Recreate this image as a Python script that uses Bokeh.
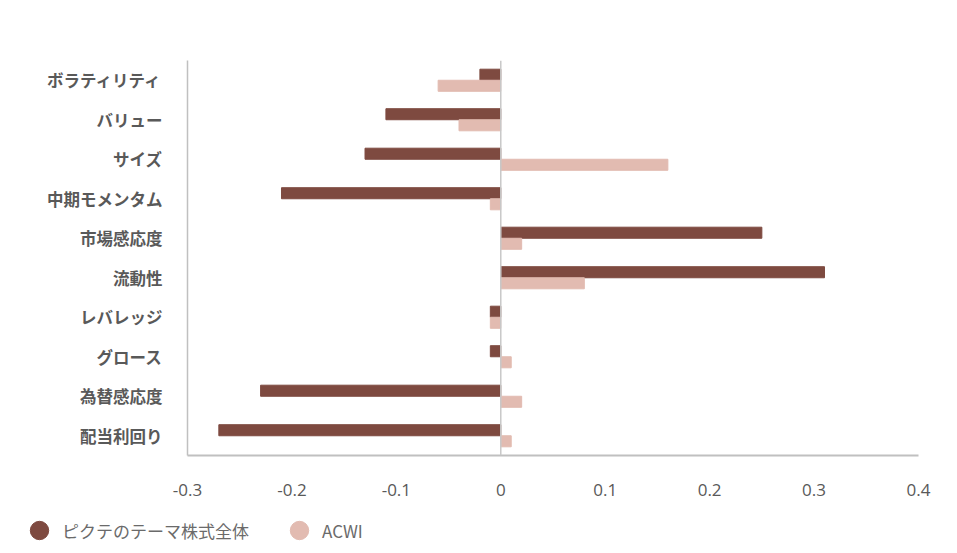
from bokeh.plotting import figure
from bokeh.models import (FactorRange, Range1d, FixedTicker, CustomJSTickFormatter, Span,
                          Legend, LegendItem, ColumnDataSource)
from bokeh.transform import dodge
from bokeh.embed import file_html
from bokeh.resources import INLINE

categories = ["ボラティリティ", "バリュー", "サイズ", "中期モメンタム", "市場感応度",
              "流動性", "レバレッジ", "グロース", "為替感応度", "配当利回り"]
pictet = [-0.02, -0.11, -0.13, -0.21, 0.25, 0.31, -0.01, -0.01, -0.23, -0.27]
acwi = [-0.06, -0.04, 0.16, -0.01, 0.02, 0.08, -0.01, 0.01, 0.02, 0.01]
series_names = ["ピクテのテーマ株式全体", "ACWI"]
x_ticks = [-0.3, -0.2, -0.1, 0.0, 0.1, 0.2, 0.3, 0.4]

DARK = "#7e4a40"
LIGHT = "#e2bbb1"
GRAY_TXT = "#595959"

src = ColumnDataSource(dict(cat=categories, pictet=pictet, acwi=acwi))

p = figure(width=940, height=508, output_backend="svg", toolbar_location=None,
           y_range=FactorRange(factors=list(reversed(categories))),
           x_range=Range1d(-0.3, 0.4),
           min_border_left=187, min_border_right=22, min_border_top=60, min_border_bottom=53)

p.hbar(y=dodge("cat", 0.14, range=p.y_range), right="pictet", left=0, height=0.28,
       source=src, color=DARK)
p.hbar(y=dodge("cat", -0.14, range=p.y_range), right="acwi", left=0, height=0.28,
       source=src, color=LIGHT)

p.add_layout(Span(location=0, dimension="height", line_color="#c8c8c8", line_width=1.5))

p.outline_line_color = None
p.xgrid.grid_line_color = None
p.ygrid.grid_line_color = None

p.xaxis.ticker = FixedTicker(ticks=x_ticks)
p.xaxis.formatter = CustomJSTickFormatter(code="return Number(tick.toFixed(1)).toString();")
p.xaxis.major_tick_line_color = None
p.xaxis.minor_tick_line_color = None
p.xaxis.axis_line_color = "#c0c0c0"
p.xaxis.axis_line_width = 2
p.xaxis.major_label_standoff = 22
p.xaxis.major_label_text_font = "Open Sans"
p.xaxis.major_label_text_font_size = "17px"
p.xaxis.major_label_text_color = GRAY_TXT

p.yaxis.major_tick_line_color = None
p.yaxis.minor_tick_line_color = None
p.yaxis.axis_line_color = "#c0c0c0"
p.yaxis.axis_line_width = 1.5
p.yaxis.major_label_standoff = 19
p.yaxis.major_label_text_font = "Noto Sans CJK JP"
p.yaxis.major_label_text_font_style = "bold"
p.yaxis.major_label_text_font_size = "16.5px"
p.yaxis.major_label_text_color = GRAY_TXT

# legend in its own strip below the chart (separate root, so frames are not aligned)
lg = figure(width=940, height=40, output_backend="svg", toolbar_location=None,
            x_range=Range1d(0, 1), y_range=Range1d(0, 1),
            x_axis_location=None, y_axis_location=None,
            min_border=0, outline_line_color=None)
lg.grid.visible = False
nan = float("nan")
r1 = lg.scatter(x=[nan], y=[nan], marker="circle", size=19, color=DARK)
r2 = lg.scatter(x=[nan], y=[nan], marker="circle", size=19, color=LIGHT)

legend = Legend(items=[LegendItem(label=series_names[0], renderers=[r1]),
                       LegendItem(label=series_names[1], renderers=[r2])],
                orientation="horizontal", location=(16, -6),
                border_line_color=None, background_fill_alpha=0,
                label_text_font="Noto Sans CJK JP", label_text_font_size="17px",
                label_text_color="#6a6a6a", glyph_width=46, glyph_height=48,
                spacing=27, label_standoff=0, padding=0, margin=0)
lg.add_layout(legend, "center")

open("out.html", "w").write(file_html([p, lg], INLINE))
